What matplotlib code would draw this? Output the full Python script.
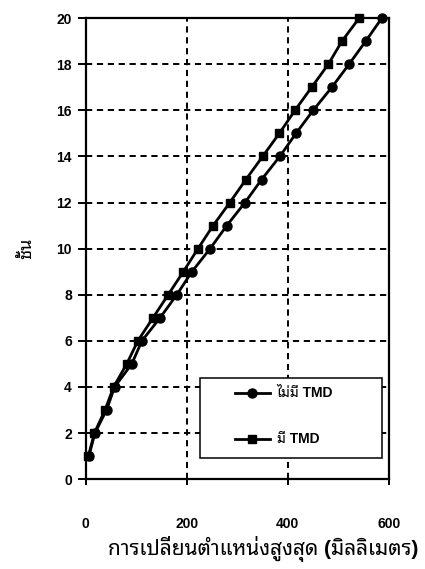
import matplotlib
matplotlib.use("Agg")
import matplotlib.pyplot as plt
from matplotlib.patches import Rectangle

FONT = ['Liberation Sans', 'Noto Sans Thai Looped', 'DejaVu Sans']
plt.rcParams['font.family'] = FONT
plt.rcParams['font.weight'] = 'bold'

floors = list(range(1, 21))
# max displacement (mm) per floor
no_tmd = [6, 18, 41, 57, 91, 111, 147, 180, 210, 246,
          279, 315, 348, 384, 416, 450, 487, 521, 554, 586]
with_tmd = [5, 17, 38, 55, 81, 103, 133, 163, 193, 222,
            252, 285, 317, 350, 383, 414, 447, 480, 507, 541]

xticks = [0, 200, 400, 600]
yticks = list(range(0, 21, 2))

label_no = "ไม่มี TMD"
label_with = "มี TMD"
xlabel = "การเปลี่ยนตำแหน่งสูงสุด (มิลลิเมตร)"
ylabel = "ชั้น"


def main():
    fig = plt.figure(figsize=(4.25, 5.69), dpi=100)
    ax = fig.add_axes([0.202, 0.158, 0.713, 0.810])

    ax.plot(no_tmd, floors, color="black", lw=2.0, marker="o",
            markersize=6.5, label=label_no, zorder=3, clip_on=False)
    ax.plot(with_tmd, floors, color="black", lw=2.0, marker="s",
            markersize=6, label=label_with, zorder=3, clip_on=False)

    ax.set_xlim(0, 600)
    ax.set_ylim(0, 20)
    ax.set_xticks(xticks)
    ax.set_yticks(yticks)
    ax.grid(True, color="black", linestyle=(0, (3.2, 2.4)), lw=1.4)

    for s in ax.spines.values():
        s.set_linewidth(1.6)
        s.set_color("black")

    ax.tick_params(axis="y", direction="out", length=6, width=1.4,
                   labelsize=10, pad=4)
    ax.tick_params(axis="x", direction="out", length=4, width=1.4,
                   labelsize=10, pad=23)

    ax.set_xlabel(xlabel, fontsize=15, fontweight="bold", labelpad=0)
    ax.xaxis.set_label_coords(0.584, -0.123)
    ax.set_ylabel(ylabel, fontsize=13, fontweight="bold", labelpad=15)

    # legend box drawn separately so the entries can sit inset like the original
    box = Rectangle((0.376, 0.046), 0.601, 0.173, transform=ax.transAxes,
                    facecolor="white", edgecolor="black", lw=1.1, zorder=4)
    ax.add_patch(box)
    leg = ax.legend(loc="center left", bbox_to_anchor=(0.492, 0.136),
                    frameon=False, fontsize=10,
                    handlelength=2.5, labelspacing=2.3, borderpad=0,
                    handletextpad=0.5, borderaxespad=0)
    leg.set_zorder(5)

    fig.savefig("out.png", dpi=100)
    plt.close(fig)


if __name__ == "__main__":
    main()
